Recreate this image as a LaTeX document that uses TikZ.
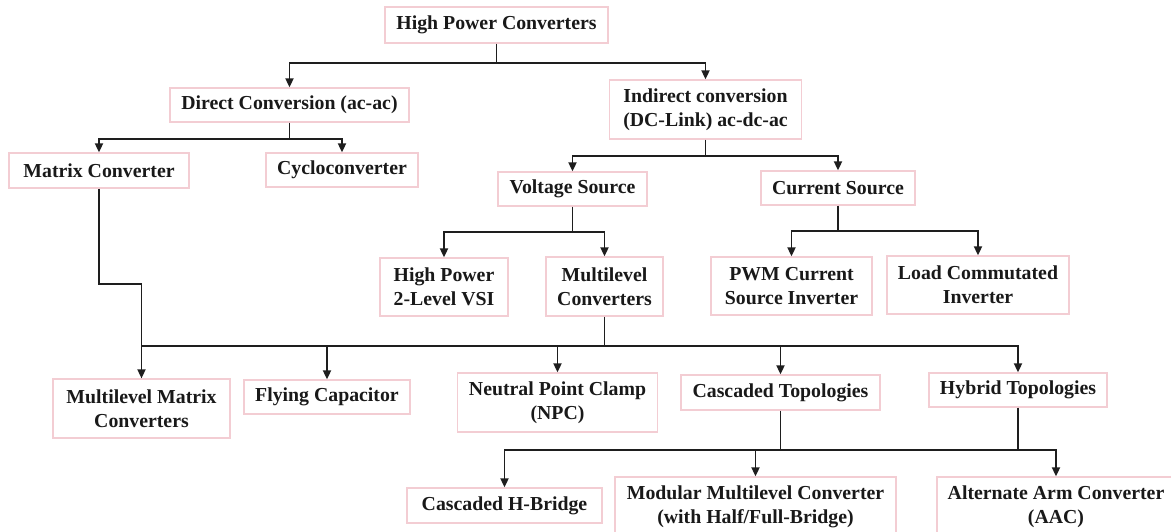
\documentclass[tikz,border=0pt]{standalone}
\usepackage{fontspec}
\setmainfont{Liberation Serif}
\usetikzlibrary{arrows.meta}
\definecolor{boxpink}{RGB}{243,205,211}
\definecolor{linegray}{RGB}{30,30,30}
\begin{document}
\begin{tikzpicture}[x=1pt,y=-1pt,
  box/.style={draw=boxpink,line width=1.3pt,fill=white,inner sep=0pt,align=center,
    font=\fontsize{19.8}{24}\selectfont\bfseries,text=black!90},
  conn/.style={draw=linegray,line width=1.8pt},
  arr/.style={conn,-{Triangle[length=9pt,width=8pt]}}]
\clip (0,0) rectangle (1171,531);
\fill[white] (0,0) rectangle (1171,531);
% nodes
\node[box,minimum width=223pt,minimum height=36pt] (hpc) at (496.5,25) {High Power Converters};
\node[box,minimum width=239pt,minimum height=34pt] (dir) at (289.5,105) {Direct Conversion (ac-ac)};
\node[box,minimum width=192pt,minimum height=59pt] (ind) at (705.5,109.5) {Indirect conversion\\(DC-Link) ac-dc-ac};
\node[box,minimum width=180pt,minimum height=35pt] (mat) at (99,170.5) {Matrix Converter};
\node[box,minimum width=152pt,minimum height=34pt] (cyc) at (342,170) {Cycloconverter};
\node[box,minimum width=149pt,minimum height=34pt] (vs) at (572.5,189) {Voltage Source};
\node[box,minimum width=154pt,minimum height=34pt] (cs) at (838,188) {Current Source};
\node[box,minimum width=128pt,minimum height=58pt] (hp2) at (444,287) {High Power\\2-Level VSI};
\node[box,minimum width=117pt,minimum height=59pt] (mlc) at (604.5,286.5) {Multilevel\\Converters};
\node[box,minimum width=161pt,minimum height=58pt] (pwm) at (791.5,286) {PWM Current\\Source Inverter};
\node[box,minimum width=182pt,minimum height=58pt] (lci) at (978,285) {Load Commutated\\Inverter};
\node[box,minimum width=177pt,minimum height=59pt] (mmc) at (141.5,408.5) {Multilevel Matrix\\Converters};
\node[box,minimum width=166pt,minimum height=34pt] (fc) at (327,397) {Flying Capacitor};
\node[box,minimum width=200pt,minimum height=59pt] (npc) at (557.5,402.5) {Neutral Point Clamp\\(NPC)};
\node[box,minimum width=199pt,minimum height=35pt] (ct) at (780.5,392.5) {Cascaded Topologies};
\node[box,minimum width=178pt,minimum height=34pt] (ht) at (1018,390) {Hybrid Topologies};
\node[box,minimum width=195pt,minimum height=35pt] (chb) at (504.5,505.5) {Cascaded H-Bridge};
\node[box,minimum width=281pt,minimum height=59pt] (mod) at (755.5,506.5) {Modular Multilevel Converter\\(with Half/Full-Bridge)};
\node[box,minimum width=238pt,minimum height=59pt] (aac) at (1056,506.5) {Alternate Arm Converter\\(AAC)};
% connectors
\draw[conn] (hpc.south) -- ++(0,19) coordinate (j1);
\draw[arr] (j1) -| (dir.north);
\draw[arr] (j1) -| (ind.north);
\draw[conn] (dir.south) -- ++(0,16) coordinate (j2);
\draw[arr] (j2) -| (mat.north);
\draw[arr] (j2) -| (cyc.north);
\draw[conn] (ind.south) -- ++(0,16) coordinate (j3);
\draw[arr] (j3) -| (vs.north);
\draw[arr] (j3) -| (cs.north);
\draw[conn] (vs.south) -- ++(0,25) coordinate (j4);
\draw[arr] (j4) -| (hp2.north);
\draw[arr] (j4) -| (mlc.north);
\draw[conn] (cs.south) -- ++(0,25) coordinate (j5);
\draw[arr] (j5) -| (pwm.north);
\draw[arr] (j5) -| (lci.north);
\draw[arr] (mat.south) -- ++(0,95) -| (mmc.north);
\draw[conn] (mlc.south) -- ++(0,29) coordinate (bus);
\draw[conn] (bus) -| (mmc.north);
\draw[arr] (bus) -| (fc.north);
\draw[arr] (bus) -| (npc.north);
\draw[arr] (bus) -| (ct.north);
\draw[arr] (bus) -| (ht.north);
\draw[conn] (ct.south) -- ++(0,39) coordinate (bus2);
\draw[arr] (bus2) -| (chb.north);
\draw[arr] (bus2) -| (mod.north);
\draw[arr] (bus2) -| (aac.north);
\draw[conn] (ht.south) -- (ht.south |- bus2);
\end{tikzpicture}
\end{document}
